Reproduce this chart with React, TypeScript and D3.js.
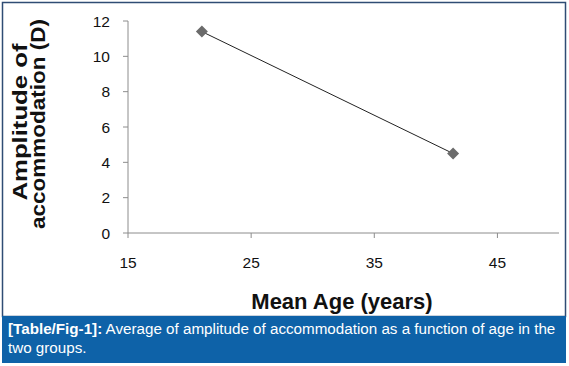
import React from 'react';
import * as d3 from 'd3';

const ages = [21, 41.4];
const amplitudes = [11.4, 4.5];
const xTicks = [15, 25, 35, 45];
const yTicks = [0, 2, 4, 6, 8, 10, 12];

const width = 569;
const height = 366;
const font = '"Liberation Sans", Arial, sans-serif';

export default function App() {
    const x = d3.scaleLinear().domain([15, 50]).range([128, 559]);
    const y = d3.scaleLinear().domain([0, 12]).range([233, 21]);

    const points = ages.map((a, i) => ({ age: a, amp: amplitudes[i] }));

    const lineGen = d3
        .line<{ age: number; amp: number }>()
        .x((d) => x(d.age))
        .y((d) => y(d.amp));

    const marker = d3.symbol().type(d3.symbolSquare).size(72)();

    return (
        <svg
            width={width}
            height={height}
            style={{ position: 'absolute', left: 0, top: 0, background: '#fff' }}
            fontFamily={font}
        >
            {/* chart frame */}
            <rect x={2.5} y={2.5} width={563} height={314} fill="none" stroke="#2f4c74" strokeWidth={1.5} />

            {/* y axis */}
            <line x1={x(15)} x2={x(15)} y1={y(12)} y2={y(0)} stroke="#8c8c8c" strokeWidth={1} />
            {yTicks.map((t) => (
                <g key={'y' + t}>
                    <line x1={x(15) - 5} x2={x(15)} y1={y(t)} y2={y(t)} stroke="#8c8c8c" strokeWidth={1} />
                    <text x={x(15) - 18} y={y(t)} dy="0.36em" textAnchor="end" fontSize={15.5} fill="#111">
                        {t}
                    </text>
                </g>
            ))}

            {/* x axis */}
            <line x1={x(15)} x2={x(50)} y1={y(0)} y2={y(0)} stroke="#8c8c8c" strokeWidth={1} />
            {xTicks.map((t) => (
                <g key={'x' + t}>
                    <line x1={x(t)} x2={x(t)} y1={y(0)} y2={y(0) + 5} stroke="#8c8c8c" strokeWidth={1} />
                    <text x={x(t)} y={y(0) + 29} dy="0.36em" textAnchor="middle" fontSize={15.5} fill="#111">
                        {t}
                    </text>
                </g>
            ))}

            {/* axis titles */}
            <text x={342} y={309} textAnchor="middle" fontSize={22} fontWeight="bold" fill="#111">
                Mean Age (years)
            </text>
            <text
                transform="translate(27,122) rotate(-90)"
                textAnchor="middle"
                fontSize={20}
                fontWeight="bold"
                fill="#111"
                textLength={157}
                lengthAdjust="spacingAndGlyphs"
            >
                Amplitude of
            </text>
            <text
                transform="translate(45,124) rotate(-90)"
                textAnchor="middle"
                fontSize={20}
                fontWeight="bold"
                fill="#111"
                textLength={210}
                lengthAdjust="spacingAndGlyphs"
            >
                accommodation (D)
            </text>

            {/* series */}
            <path d={lineGen(points) ?? ''} fill="none" stroke="#222" strokeWidth={1} />
            {points.map((p, i) => (
                <path
                    key={'m' + i}
                    d={marker ?? ''}
                    transform={`translate(${x(p.age)},${y(p.amp)}) rotate(45)`}
                    fill="#6b6b6b"
                />
            ))}

            {/* caption */}
            <rect x={2} y={316} width={564} height={47} fill="#0e62a8" />
            <text x={8} y={334} fontSize={15.2} fill="#fff">
                <tspan fontWeight="bold">[Table/Fig-1]:</tspan>
                <tspan>{'  Average of amplitude of accommodation as a function of age in the'}</tspan>
            </text>
            <text x={8} y={353} fontSize={15.2} fill="#fff">
                two groups.
            </text>
        </svg>
    );
}
